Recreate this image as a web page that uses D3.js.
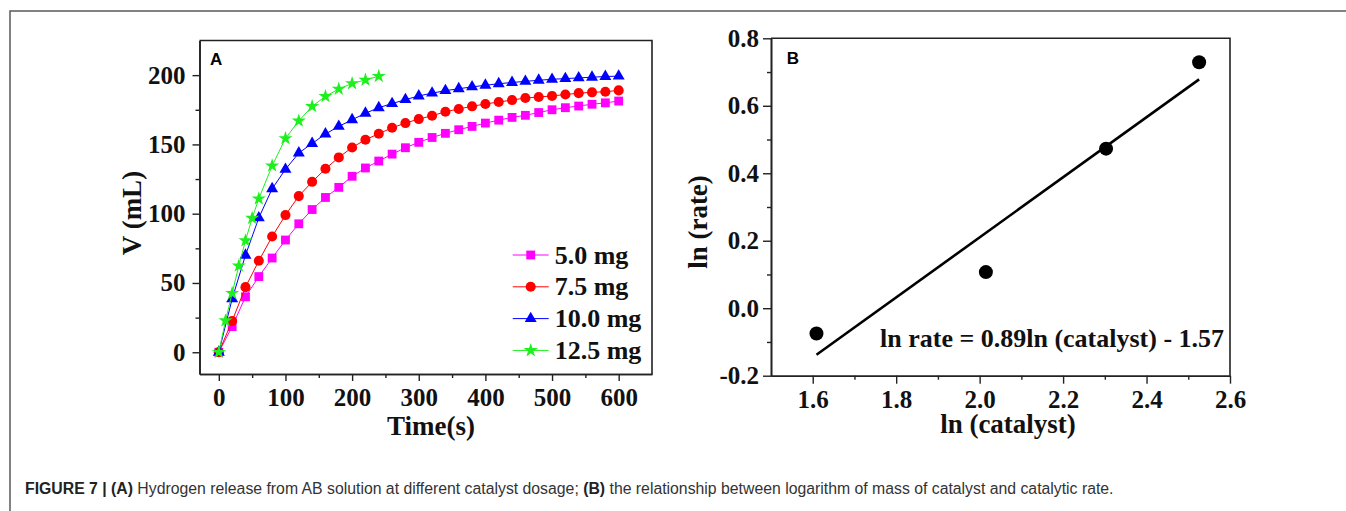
<!DOCTYPE html>
<html>
<head>
<meta charset="utf-8">
<script src="https://cdn.jsdelivr.net/npm/d3@7"></script>
<style>
  body { margin: 0; background: #fff; }
  svg { display: block; }
</style>
</head>
<body>
<div id="chart"></div>
<script>
// panel A - hydrogen volume vs time
const timeA = [0, 20, 40, 60, 80, 100, 120, 140, 160, 180, 200, 220, 240, 260, 280, 300,
  320, 340, 360, 380, 400, 420, 440, 460, 480, 500, 520, 540, 560, 580, 600];
const time125 = [0, 10, 20, 30, 40, 50, 60, 80, 100, 120, 140, 160, 180, 200, 220, 240];
const v50 = [0, 18.5, 40, 54.6, 68, 81, 92.7, 103, 111.7, 119, 127, 133, 138, 143, 147.6, 151.5,
  155, 158, 160.6, 163, 165.4, 167.5, 169.5, 171, 173, 175, 176.5, 177.7, 179, 180, 181.3];
const v75 = [0, 22.6, 47, 66, 83.5, 99, 112.7, 123, 132.4, 140.6, 147.8, 153.4, 157.7, 162, 165.4, 168.3,
  170.7, 173.6, 175.6, 177.5, 179.2, 180.6, 182, 183.5, 184.2, 185, 186, 187, 187.6, 188, 189];
const v100 = [0, 38.5, 70, 97, 118, 132, 143.8, 150.7, 157.5, 163, 167.8, 172.5, 176.5, 179.5, 182.3, 185,
  187, 188.8, 190.2, 191.5, 192.7, 193.8, 194.7, 195.5, 196.3, 197, 197.5, 198, 198.5, 199, 199.3];
const v125 = [0, 22.8, 42.6, 62.4, 80.6, 96.8, 110.8, 134.6, 154.3, 167, 177.5, 184.7, 190, 194, 196.5, 199.2];
const doseLabels = ["5.0 mg", "7.5 mg", "10.0 mg", "12.5 mg"];
const xTicksA = [0, 100, 200, 300, 400, 500, 600];
const xMinorA = [50, 150, 250, 350, 450, 550];
const yTicksA = [0, 50, 100, 150, 200];
const yMinorA = [25, 75, 125, 175];

// panel B - ln(rate) vs ln(catalyst)
const lnCatalyst = [1.609, 2.015, 2.303, 2.526];
const lnRate = [-0.075, 0.107, 0.473, 0.729];
const fitSlope = 0.89, fitIntercept = -1.57;
const xTicksB = [1.6, 1.8, 2.0, 2.2, 2.4, 2.6];
const xMinorB = [1.7, 1.9, 2.1, 2.3, 2.5];
const yTicksB = [-0.2, 0.0, 0.2, 0.4, 0.6, 0.8];
const yMinorB = [-0.1, 0.1, 0.3, 0.5, 0.7];

const serif = "'Liberation Serif','Times New Roman',serif";
const sans = "'Liberation Sans',Arial,sans-serif";

const svg = d3.select("#chart").append("svg")
  .attr("width", 1346)
  .attr("height", 511);

svg.append("rect").attr("width", 1346).attr("height", 511).attr("fill", "#fff");

// outer frame of the figure
svg.append("rect")
  .attr("x", 10).attr("y", 11)
  .attr("width", 1400).attr("height", 600)
  .attr("fill", "none").attr("stroke", "#5a5a5a").attr("stroke-width", 1.5);

// axes with outward ticks + closed box
function drawAxes(x, y, o) {
  const g = svg.append("g");
  const [x0, x1] = x.range();
  const [y0, y1] = y.range();

  const fontIt = a => a
    .attr("font-family", serif)
    .attr("font-size", o.fontSize)
    .attr("font-weight", "bold");

  g.append("g").attr("transform", `translate(0,${y0})`)
    .call(d3.axisBottom(x).tickValues(o.xTicks).tickSize(o.major).tickSizeOuter(0)
      .tickPadding(o.xPad).tickFormat(o.xFmt))
    .call(fontIt);
  g.append("g").attr("transform", `translate(0,${y0})`)
    .call(d3.axisBottom(x).tickValues(o.xMinor).tickSize(o.minor).tickSizeOuter(0).tickFormat(""));
  g.append("g").attr("transform", `translate(${x0},0)`)
    .call(d3.axisLeft(y).tickValues(o.yTicks).tickSize(o.major).tickSizeOuter(0)
      .tickPadding(o.yPad).tickFormat(o.yFmt))
    .call(fontIt);
  g.append("g").attr("transform", `translate(${x0},0)`)
    .call(d3.axisLeft(y).tickValues(o.yMinor).tickSize(o.minor).tickSizeOuter(0).tickFormat(""));

  // top + right sides of the box
  g.append("path")
    .attr("d", `M${x0},${y1}H${x1}V${y0}`)
    .attr("fill", "none").attr("stroke", "#222").attr("stroke-width", 1.6);

  g.selectAll(".domain").attr("stroke", "#222").attr("stroke-width", 1.6);
  g.selectAll(".tick line").attr("stroke", "#222").attr("stroke-width", 1.4);
  g.selectAll(".tick text")
    .attr("fill", "#111")
    .style("font-family", serif)
    .style("font-weight", "bold")
    .style("font-size", o.fontSize + "px");
}

// ---------- panel A ----------
const xA = d3.scaleLinear().domain([-29, 650]).range([199.5, 652]);
const yA = d3.scaleLinear().domain([-15.7, 225]).range([374, 40.5]);

drawAxes(xA, yA, {
  xTicks: xTicksA, xMinor: xMinorA, yTicks: yTicksA, yMinor: yMinorA,
  major: 7, minor: 4, xPad: 7, yPad: 7, fontSize: 25,
  xFmt: d => d, yFmt: d => d
});

const seriesA = [
  { name: doseLabels[0], t: timeA, v: v50, color: "#f0f", sym: d3.symbolSquare, size: 78 },
  { name: doseLabels[1], t: timeA, v: v75, color: "#f00", sym: d3.symbolCircle, size: 80 },
  { name: doseLabels[2], t: timeA, v: v100, color: "#00f", sym: d3.symbolTriangle, size: 62 },
  { name: doseLabels[3], t: time125, v: v125, color: "#1ef01e", sym: d3.symbolStar, size: 62 }
];

const lineA = d3.line().x(d => xA(d[0])).y(d => yA(d[1]));

seriesA.forEach(s => {
  const pts = s.t.map((t, i) => [t, s.v[i]]);
  svg.append("path")
    .attr("d", lineA(pts))
    .attr("fill", "none")
    .attr("stroke", s.color)
    .attr("stroke-width", 1);
  svg.append("g").selectAll("path")
    .data(pts)
    .join("path")
    .attr("transform", d => `translate(${xA(d[0])},${yA(d[1])})`)
    .attr("d", d3.symbol().type(s.sym).size(s.size))
    .attr("fill", s.color);
});

// legend
const legA = svg.append("g").attr("transform", "translate(512.7,255)");
seriesA.forEach((s, i) => {
  const row = legA.append("g").attr("transform", `translate(0,${i * 31.8})`);
  row.append("line").attr("x1", 0).attr("x2", 36)
    .attr("stroke", s.color).attr("stroke-width", 1);
  row.append("path").attr("transform", "translate(18,0)")
    .attr("d", d3.symbol().type(s.sym).size(s.size)).attr("fill", s.color);
  row.append("text").attr("x", 42).attr("y", 8.5)
    .style("font-family", serif).style("font-weight", "bold").style("font-size", "26px")
    .attr("fill", "#111")
    .text(s.name);
});

svg.append("text").attr("x", 210).attr("y", 65)
  .style("font-family", sans).style("font-weight", "bold").style("font-size", "17px")
  .text("A");

svg.append("text").attr("x", 431).attr("y", 435)
  .attr("text-anchor", "middle")
  .style("font-family", serif).style("font-weight", "bold").style("font-size", "27px")
  .attr("fill", "#111")
  .text("Time(s)");

svg.append("text").attr("transform", "translate(141,213) rotate(-90)")
  .attr("text-anchor", "middle")
  .style("font-family", serif).style("font-weight", "bold").style("font-size", "27px")
  .attr("fill", "#111")
  .text("V (mL)");

// ---------- panel B ----------
const xB = d3.scaleLinear().domain([1.5, 2.6]).range([771, 1230]);
const yB = d3.scaleLinear().domain([-0.2, 0.8]).range([375.7, 38.3]);

drawAxes(xB, yB, {
  xTicks: xTicksB, xMinor: xMinorB, yTicks: yTicksB, yMinor: yMinorB,
  major: 8, minor: 4, xPad: 7, yPad: 4, fontSize: 25,
  xFmt: d => d.toFixed(1), yFmt: d => d.toFixed(1)
});

// fitted line over the data range
const fitX = [lnCatalyst[0], lnCatalyst[lnCatalyst.length - 1]];
svg.append("path")
  .attr("d", d3.line().x(d => xB(d)).y(d => yB(fitSlope * d + fitIntercept))(fitX))
  .attr("fill", "none").attr("stroke", "#000").attr("stroke-width", 2.6);

svg.append("g").selectAll("circle")
  .data(lnCatalyst)
  .join("circle")
  .attr("cx", d => xB(d))
  .attr("cy", (d, i) => yB(lnRate[i]))
  .attr("r", 7)
  .attr("fill", "#000");

svg.append("text").attr("x", 880).attr("y", 347)
  .style("font-family", serif).style("font-weight", "bold").style("font-size", "26px")
  .attr("fill", "#111")
  .text("ln rate = 0.89ln (catalyst) - 1.57");

svg.append("text").attr("x", 786.7).attr("y", 64.3)
  .style("font-family", sans).style("font-weight", "bold").style("font-size", "17px")
  .text("B");

svg.append("text").attr("x", 1008).attr("y", 433)
  .attr("text-anchor", "middle")
  .style("font-family", serif).style("font-weight", "bold").style("font-size", "27px")
  .attr("fill", "#111")
  .text("ln (catalyst)");

svg.append("text").attr("transform", "translate(707,222) rotate(-90)")
  .attr("text-anchor", "middle")
  .style("font-family", serif).style("font-weight", "bold").style("font-size", "27px")
  .attr("fill", "#111")
  .text("ln (rate)");

// ---------- caption ----------
const cap = svg.append("text").attr("x", 25).attr("y", 494)
  .style("font-family", sans).style("font-size", "15.8px").attr("fill", "#333");
cap.append("tspan").style("font-weight", "bold").attr("fill", "#222").text("FIGURE 7 | (A)");
cap.append("tspan").text(" Hydrogen release from AB solution at different catalyst dosage; ");
cap.append("tspan").style("font-weight", "bold").attr("fill", "#222").text("(B)");
cap.append("tspan").text(" the relationship between logarithm of mass of catalyst and catalytic rate.");
</script>
</body>
</html>
